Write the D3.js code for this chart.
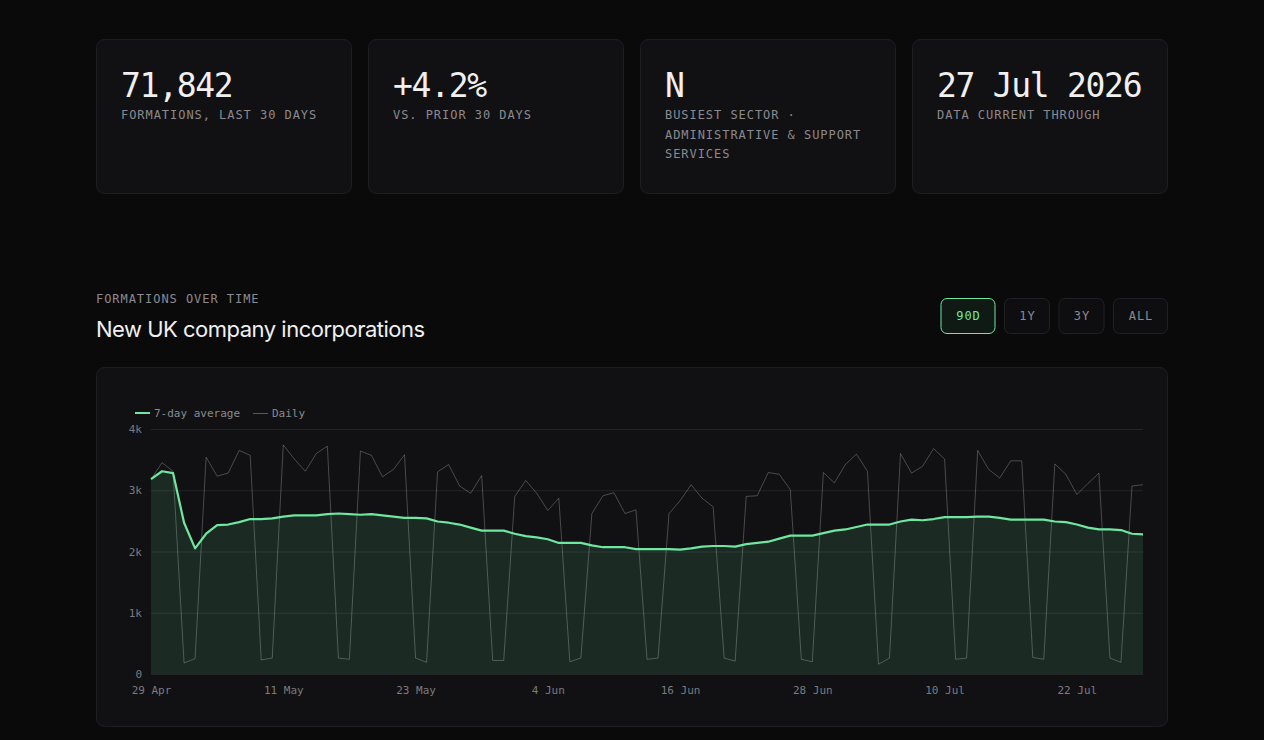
<!DOCTYPE html>
<html>
<head>
<meta charset="utf-8">
<script src="https://cdn.jsdelivr.net/npm/d3@7"></script>
<style>
  html, body { margin: 0; padding: 0; background: #0a0a0a; }
  svg { display: block; }
</style>
</head>
<body>
<svg id="page" width="1264" height="740"></svg>
<script>
// ---------------- DATA ----------------
const startDate = "2026-04-29";
const dailyValues = [
  3180, 3450, 3310, 180, 250, 3540, 3230, 3280, 3650, 3570,
  230, 260, 3740, 3510, 3310, 3600, 3720, 260, 240, 3640,
  3570, 3220, 3340, 3580, 260, 190, 3300, 3420, 3070, 2950,
  3240, 220, 220, 2900, 3160, 2950, 2670, 2870, 200, 260,
  2620, 2910, 2960, 2620, 2680, 240, 260, 2620, 2830, 3090,
  2870, 2730, 260, 210, 2900, 2910, 3290, 3260, 3010, 240,
  200, 3290, 3120, 3420, 3590, 3310, 160, 260, 3600, 3280,
  3390, 3680, 3510, 240, 260, 3650, 3340, 3200, 3480, 3480,
  270, 240, 3430, 3260, 2930, 3110, 3280, 260, 190, 3070,
  3090
];
const avgValues = [
  3180, 3310, 3280, 2470, 2050, 2290, 2430, 2440, 2480, 2530,
  2530, 2540, 2570, 2590, 2590, 2590, 2610, 2620, 2610, 2600,
  2610, 2590, 2570, 2550, 2550, 2540, 2490, 2470, 2440, 2390,
  2340, 2340, 2340, 2290, 2250, 2230, 2200, 2140, 2140, 2140,
  2100, 2070, 2070, 2070, 2040, 2040, 2040, 2040, 2030, 2050,
  2080, 2090, 2090, 2080, 2120, 2140, 2160, 2210, 2260, 2260,
  2260, 2300, 2340, 2360, 2400, 2440, 2440, 2440, 2490, 2520,
  2510, 2530, 2560, 2560, 2560, 2570, 2570, 2550, 2520, 2520,
  2520, 2520, 2490, 2480, 2440, 2390, 2360, 2360, 2350, 2290,
  2280
];
const yTicks = [0, 1000, 2000, 3000, 4000];
const yTickLabels = ["0", "1k", "2k", "3k", "4k"];
const xTickDates = ["2026-04-29", "2026-05-11", "2026-05-23", "2026-06-04", "2026-06-16", "2026-06-28", "2026-07-10", "2026-07-22"];
const xTickLabels = ["29 Apr", "11 May", "23 May", "4 Jun", "16 Jun", "28 Jun", "10 Jul", "22 Jul"];

const statValues = ["71,842", "+4.2%", "N", "27 Jul 2026"];
const statLabels = [
  ["FORMATIONS, LAST 30 DAYS"],
  ["VS. PRIOR 30 DAYS"],
  ["BUSIEST SECTOR ·", "ADMINISTRATIVE & SUPPORT", "SERVICES"],
  ["DATA CURRENT THROUGH"]
];
const rangeButtons = ["90D", "1Y", "3Y", "ALL"];
const activeRange = "90D";
const legendLabels = ["7-day average", "Daily"];

// ---------------- STYLE ----------------
const MONO = "'DejaVu Sans Mono', 'Liberation Mono', monospace";
const SANS = "Inter, 'Noto Sans', sans-serif";
const C = {
  card: "#111113", border: "#1f1f22", white: "#f0f0f0", muted: "#8a8a90",
  axis: "#7a7a80", grid: "#252528", green: "#6ee7a0"
};

const svg = d3.select("#page");
svg.append("rect").attr("width", 1264).attr("height", 740).attr("fill", "#0a0a0a");

// ---------------- STAT CARDS ----------------
const cardW = 256, cardGap = 16, cardX0 = 96, cardY = 39, cardH = 155;
statValues.forEach((v, i) => {
  const x = cardX0 + i * (cardW + cardGap);
  const g = svg.append("g").attr("transform", `translate(${x},${cardY})`);
  g.append("rect").attr("x", 0.5).attr("y", 0.5).attr("width", cardW - 1).attr("height", cardH - 1)
    .attr("rx", 8).attr("fill", C.card).attr("stroke", C.border);
  g.append("text").attr("x", 25).attr("y", 57.5).text(v)
    .attr("font-family", MONO).attr("font-size", 33).attr("letter-spacing", -1.3)
    .attr("fill", C.white);
  statLabels[i].forEach((line, j) => {
    g.append("text").attr("x", 25).attr("y", 80 + j * 19.5).text(line)
      .attr("font-family", MONO).attr("font-size", 12).attr("letter-spacing", 0.95)
      .attr("fill", C.muted);
  });
});

// ---------------- SECTION HEADER ----------------
svg.append("text").attr("x", 96).attr("y", 303).text("FORMATIONS OVER TIME")
  .attr("font-family", MONO).attr("font-size", 12).attr("letter-spacing", 0.95).attr("fill", C.muted);
svg.append("text").attr("x", 96).attr("y", 337).text("New UK company incorporations")
  .attr("font-family", SANS).attr("font-size", 22).attr("letter-spacing", -0.5).attr("fill", C.white);

// buttons (laid out right-to-left from container right edge)
const btnG = svg.append("g");
const btnTexts = rangeButtons.map(b => btnG.append("text").text(b)
  .attr("font-family", MONO).attr("font-size", 12).attr("letter-spacing", 0.95));
let bx = 1168;
const btnBoxes = [];
for (let i = rangeButtons.length - 1; i >= 0; i--) {
  const tw = btnTexts[i].node().getComputedTextLength();
  const w = Math.round(tw + 30);
  bx -= w;
  btnBoxes[i] = { x: bx, w };
  bx -= 8.5;
}
rangeButtons.forEach((b, i) => {
  const active = b === activeRange;
  const { x, w } = btnBoxes[i];
  btnG.insert("rect", "text").attr("x", x + 0.5).attr("y", 298.5).attr("width", w - 1).attr("height", 35)
    .attr("rx", 6).attr("fill", active ? "#0f1a15" : "#0e0e10")
    .attr("stroke", active ? C.green : "#212124");
  btnTexts[i].attr("x", x + w / 2 + 0.5).attr("y", 320).attr("text-anchor", "middle")
    .attr("fill", active ? C.green : C.muted);
});

// ---------------- CHART CARD ----------------
svg.append("rect").attr("x", 96.5).attr("y", 367.5).attr("width", 1071).attr("height", 359)
  .attr("rx", 8).attr("fill", C.card).attr("stroke", C.border);

const plot = { left: 151, right: 1143, top: 429, bottom: 674 };
const parse = d3.utcParse("%Y-%m-%d");
const t0 = parse(startDate);
const dates = dailyValues.map((_, i) => d3.utcDay.offset(t0, i));
const rows = dates.map((d, i) => ({ date: d, daily: dailyValues[i], avg: avgValues[i] }));

const x = d3.scaleUtc().domain(d3.extent(dates)).range([plot.left, plot.right]);
const y = d3.scaleLinear().domain([0, 4000]).range([plot.bottom, plot.top]);

// grid
const grid = svg.append("g");
grid.selectAll("line").data(yTicks).join("line")
  .attr("x1", plot.left).attr("x2", plot.right)
  .attr("y1", d => y(d) + 0.5).attr("y2", d => y(d) + 0.5)
  .attr("stroke", C.grid).attr("stroke-width", 1);

// y axis labels
const yAxis = d3.axisLeft(y).tickValues(yTicks).tickFormat((d, i) => yTickLabels[i]).tickSize(0).tickPadding(9);
svg.append("g").attr("transform", `translate(${plot.left},0)`).call(yAxis)
  .call(g => g.select(".domain").remove())
  .call(g => g.selectAll("text").attr("font-family", MONO).attr("font-size", 11).attr("fill", C.axis).attr("dy", "0.32em"));

// x axis labels
const xTickDateObjs = xTickDates.map(parse);
const xAxis = d3.axisBottom(x).tickValues(xTickDateObjs).tickFormat((d, i) => xTickLabels[i]).tickSize(0).tickPadding(12);
svg.append("g").attr("transform", `translate(0,${plot.bottom})`).call(xAxis)
  .call(g => g.select(".domain").remove())
  .call(g => g.selectAll("text").attr("font-family", MONO).attr("font-size", 11).attr("fill", C.axis));

// area under average
const area = d3.area().x(d => x(d.date)).y0(plot.bottom).y1(d => y(d.avg));
svg.append("path").datum(rows).attr("d", area).attr("fill", C.green).attr("fill-opacity", 0.12);

// daily line
const dailyLine = d3.line().x(d => x(d.date)).y(d => y(d.daily));
svg.append("path").datum(rows).attr("d", dailyLine).attr("fill", "none")
  .attr("stroke", "#ffffff").attr("stroke-opacity", 0.24).attr("stroke-width", 1);

// average line
const avgLine = d3.line().x(d => x(d.date)).y(d => y(d.avg));
svg.append("path").datum(rows).attr("d", avgLine).attr("fill", "none")
  .attr("stroke", C.green).attr("stroke-width", 2.2).attr("stroke-linejoin", "round");

// legend
const lg = svg.append("g");
lg.append("line").attr("x1", 135).attr("x2", 150).attr("y1", 413).attr("y2", 413)
  .attr("stroke", C.green).attr("stroke-width", 2);
lg.append("text").attr("x", 154).attr("y", 417).text(legendLabels[0])
  .attr("font-family", MONO).attr("font-size", 11).attr("fill", C.muted);
lg.append("line").attr("x1", 253).attr("x2", 268).attr("y1", 413.5).attr("y2", 413.5)
  .attr("stroke", "#ffffff").attr("stroke-opacity", 0.3).attr("stroke-width", 1);
lg.append("text").attr("x", 272).attr("y", 417).text(legendLabels[1])
  .attr("font-family", MONO).attr("font-size", 11).attr("fill", C.muted);
</script>
</body>
</html>
